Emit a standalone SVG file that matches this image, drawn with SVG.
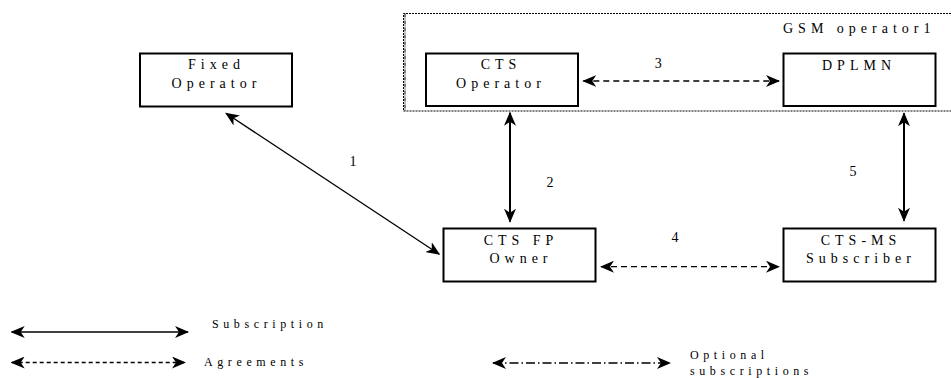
<svg xmlns="http://www.w3.org/2000/svg" width="951" height="378" viewBox="0 0 951 378">
<style>
.box{fill:#fff;stroke:#000;stroke-width:2}
.t{font-family:"Liberation Serif","Times New Roman",serif;font-size:14px;letter-spacing:5px;fill:#000;text-anchor:middle}
.n{font-family:"Liberation Serif","Times New Roman",serif;font-size:14px;fill:#000;text-anchor:middle}
.lg{font-family:"Liberation Serif","Times New Roman",serif;font-size:12px;letter-spacing:4.6px;fill:#000}
.c{fill:none;stroke:#000;stroke-width:1.3;marker-start:url(#ah);marker-end:url(#ah)}
.thick{stroke-width:2}
.dash{stroke-dasharray:6 4}
.ldash{stroke-dasharray:4 3}
.dd{stroke-dasharray:9 3 1.5 3}
</style>
<defs>
<marker id="ah" viewBox="0 0 14 12" refX="13" refY="6" markerWidth="14" markerHeight="12" markerUnits="userSpaceOnUse" orient="auto-start-reverse">
<path d="M0,0 L14,6 L0,12 L4,6 Z" fill="#000"/>
</marker>
</defs>
<rect width="951" height="378" fill="#fff"/>
<g id="gsm-operator1">
<path d="M951,13.5 H403.5 V111 H951" fill="none" stroke="#000" stroke-width="1" stroke-dasharray="2 1"/>
<path d="M405,13.5 V111" fill="none" stroke="#000" stroke-width="1" stroke-dasharray="4 1 1 1"/>
<text class="t" x="783" y="33" style="text-anchor:start">GSM  operator1</text>
</g>
<g id="fixed-operator">
<rect class="box" x="140" y="53.5" width="152" height="53"/>
<text class="t" x="216.5" y="69">Fixed</text>
<text class="t" x="216.5" y="88">Operator</text>
</g>
<g id="cts-operator">
<rect class="box" x="426" y="53.5" width="152" height="52.5"/>
<text class="t" x="501" y="69">CTS</text>
<text class="t" x="501" y="87.5">Operator</text>
</g>
<g id="dplmn">
<rect class="box" x="783.5" y="53.5" width="152" height="52.5"/>
<text class="t" x="859" y="70">DPLMN</text>
</g>
<g id="cts-fp-owner">
<rect class="box" x="443.5" y="228.5" width="152" height="53"/>
<text class="t" x="521" y="245">CTS FP</text>
<text class="t" x="521" y="262.7">Owner</text>
</g>
<g id="cts-ms-subscriber">
<rect class="box" x="783.5" y="228.5" width="152" height="53"/>
<text class="t" x="861" y="245">CTS-MS</text>
<text class="t" x="861" y="262.7">Subscriber</text>
</g>
<g id="connectors">
<line class="c" x1="226" y1="113.3" x2="439.3" y2="254.3"/>
<text class="n" x="353" y="165.7">1</text>
<line class="c thick" x1="510" y1="112.7" x2="510" y2="221.7"/>
<text class="n" x="550" y="187">2</text>
<line class="c dash" x1="583.3" y1="81" x2="779" y2="81"/>
<text class="n" x="658.3" y="68.3">3</text>
<line class="c dash" x1="601" y1="266.7" x2="779" y2="266.7"/>
<text class="n" x="675" y="241.7">4</text>
<line class="c thick" x1="904" y1="113.3" x2="904" y2="220.7"/>
<text class="n" x="853" y="176">5</text>
</g>
<g id="legend">
<line class="c" x1="11.7" y1="332" x2="188" y2="332"/>
<text class="lg" x="212" y="328">Subscription</text>
<line class="c ldash" x1="11.7" y1="362.5" x2="185" y2="362.5"/>
<text class="lg" x="204" y="366">Agreements</text>
<line class="c dd" x1="493" y1="363" x2="670" y2="363"/>
<text class="lg" x="690" y="359">Optional</text>
<text class="lg" x="690" y="374.5">subscriptions</text>
</g>
</svg>
